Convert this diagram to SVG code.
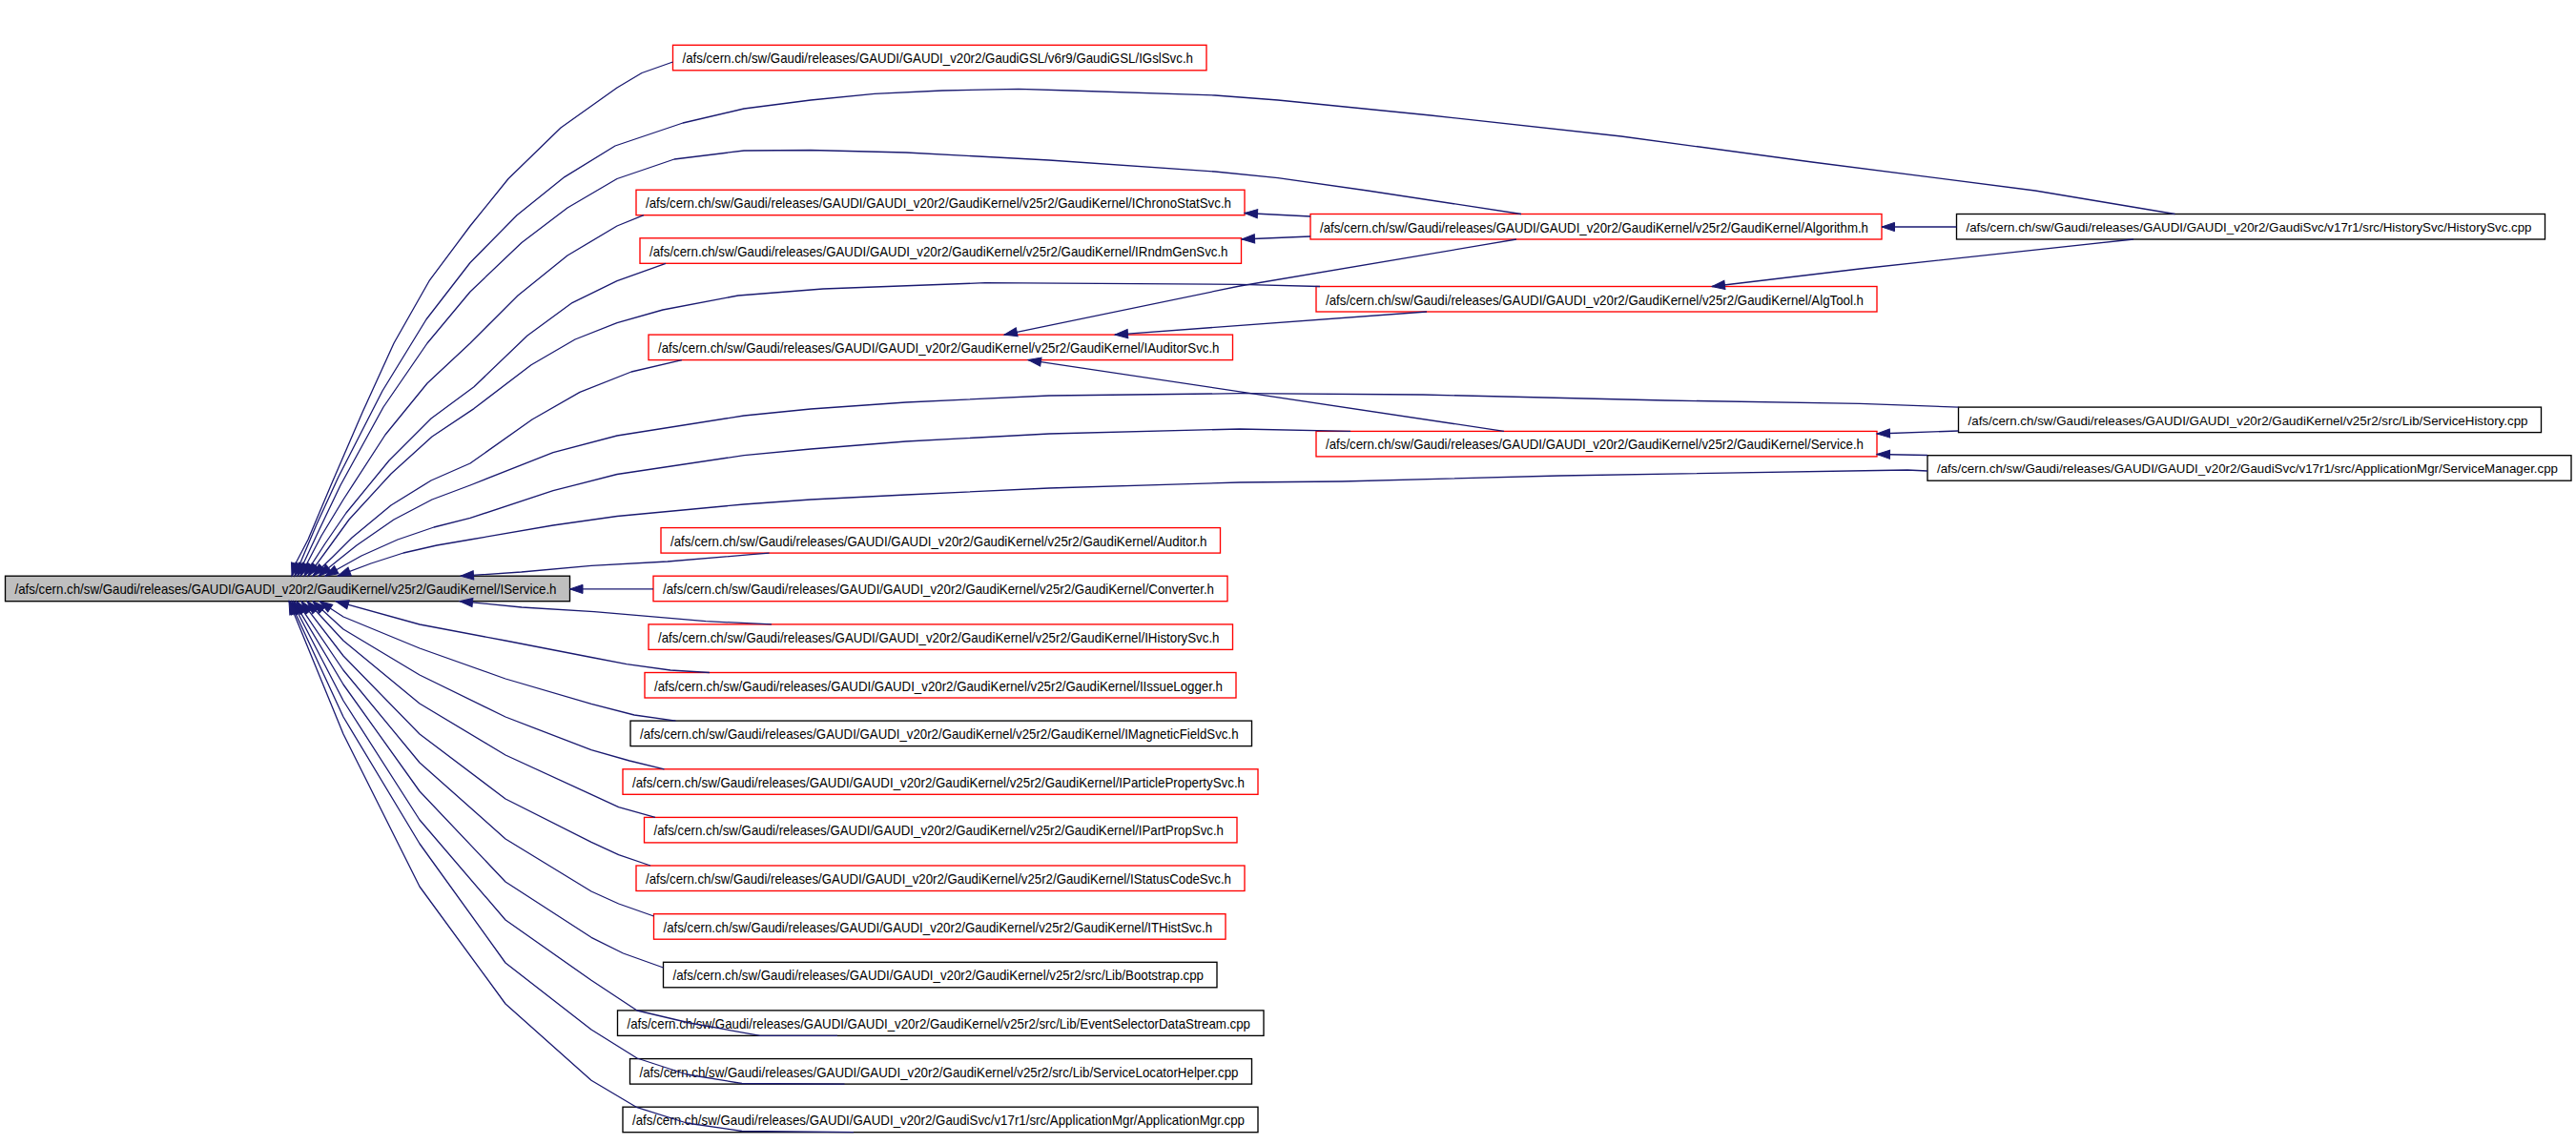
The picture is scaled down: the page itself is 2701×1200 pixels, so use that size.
<svg xmlns="http://www.w3.org/2000/svg" width="2701" height="1200" viewBox="0 0 2701 1200">
<style>
.bg{fill:#ffffff}
.nr{fill:#ffffff;stroke:#ff0000;stroke-width:1.35}
.nb{fill:#ffffff;stroke:#000000;stroke-width:1.35}
.nf{fill:#bfbfbf;stroke:#000000;stroke-width:1.35}
.t{font-family:"Liberation Sans",Arial,sans-serif;font-size:15px;fill:#000000}
.te{font-family:"Liberation Sans",Arial,sans-serif;font-size:13.5px;fill:#000000;text-anchor:middle}
.e{fill:none;stroke:#191970;stroke-width:1.3;stroke-linejoin:round;marker-end:url(#ah)}
</style>
<defs>
<marker id="ah" markerUnits="userSpaceOnUse" markerWidth="16" markerHeight="12" refX="13.5" refY="4.6" orient="auto" overflow="visible">
<path d="M0,0 L13.5,4.6 L0,9.2 z" fill="#191970" stroke="#191970" stroke-width="1"/>
</marker>
</defs>
<rect class="bg" x="0" y="0" width="2701" height="1200"/>

<g id="nodes">
<g id="n_IService"><rect class="nf" x="5.5" y="604.2" width="592" height="26.5"/><text class="t" x="15.5" y="623.2" textLength="568" lengthAdjust="spacingAndGlyphs">/afs/cern.ch/sw/Gaudi/releases/GAUDI/GAUDI_v20r2/GaudiKernel/v25r2/GaudiKernel/IService.h</text></g>
<g id="n_IGslSvc"><rect class="nr" x="705.5" y="47.3" width="559.5" height="26.5"/><text class="t" x="715.5" y="66.3" textLength="535.5" lengthAdjust="spacingAndGlyphs">/afs/cern.ch/sw/Gaudi/releases/GAUDI/GAUDI_v20r2/GaudiGSL/v6r9/GaudiGSL/IGslSvc.h</text></g>
<g id="n_IChronoStatSvc"><rect class="nr" x="667" y="199.2" width="638" height="26.5"/><text class="t" x="677" y="218.2" textLength="614" lengthAdjust="spacingAndGlyphs">/afs/cern.ch/sw/Gaudi/releases/GAUDI/GAUDI_v20r2/GaudiKernel/v25r2/GaudiKernel/IChronoStatSvc.h</text></g>
<g id="n_IRndmGenSvc"><rect class="nr" x="671" y="249.8" width="630.5" height="26.5"/><text class="t" x="681" y="268.8" textLength="606.5" lengthAdjust="spacingAndGlyphs">/afs/cern.ch/sw/Gaudi/releases/GAUDI/GAUDI_v20r2/GaudiKernel/v25r2/GaudiKernel/IRndmGenSvc.h</text></g>
<g id="n_IAuditorSvc"><rect class="nr" x="680" y="351.1" width="612.5" height="26.5"/><text class="t" x="690" y="370.1" textLength="588.5" lengthAdjust="spacingAndGlyphs">/afs/cern.ch/sw/Gaudi/releases/GAUDI/GAUDI_v20r2/GaudiKernel/v25r2/GaudiKernel/IAuditorSvc.h</text></g>
<g id="n_Algorithm"><rect class="nr" x="1374" y="224.5" width="599" height="26.5"/><text class="t" x="1384" y="243.5" textLength="575" lengthAdjust="spacingAndGlyphs">/afs/cern.ch/sw/Gaudi/releases/GAUDI/GAUDI_v20r2/GaudiKernel/v25r2/GaudiKernel/Algorithm.h</text></g>
<g id="n_AlgTool"><rect class="nr" x="1380" y="300.5" width="588" height="26.5"/><text class="t" x="1390" y="319.5" textLength="564" lengthAdjust="spacingAndGlyphs">/afs/cern.ch/sw/Gaudi/releases/GAUDI/GAUDI_v20r2/GaudiKernel/v25r2/GaudiKernel/AlgTool.h</text></g>
<g id="n_HistorySvc"><rect class="nb" x="2051.5" y="224.5" width="617" height="26.5"/><text class="te" x="2358" y="243" textLength="593" lengthAdjust="spacingAndGlyphs">/afs/cern.ch/sw/Gaudi/releases/GAUDI/GAUDI_v20r2/GaudiSvc/v17r1/src/HistorySvc/HistorySvc.cpp</text></g>
<g id="n_Service"><rect class="nr" x="1380" y="452.4" width="588" height="26.5"/><text class="t" x="1390" y="471.4" textLength="564" lengthAdjust="spacingAndGlyphs">/afs/cern.ch/sw/Gaudi/releases/GAUDI/GAUDI_v20r2/GaudiKernel/v25r2/GaudiKernel/Service.h</text></g>
<g id="n_ServiceHistory"><rect class="nb" x="2053.5" y="427.1" width="611" height="26.5"/><text class="te" x="2357" y="445.6" textLength="587" lengthAdjust="spacingAndGlyphs">/afs/cern.ch/sw/Gaudi/releases/GAUDI/GAUDI_v20r2/GaudiKernel/v25r2/src/Lib/ServiceHistory.cpp</text></g>
<g id="n_ServiceManager"><rect class="nb" x="2021" y="477.7" width="675" height="26.5"/><text class="te" x="2356.5" y="496.2" textLength="651" lengthAdjust="spacingAndGlyphs">/afs/cern.ch/sw/Gaudi/releases/GAUDI/GAUDI_v20r2/GaudiSvc/v17r1/src/ApplicationMgr/ServiceManager.cpp</text></g>
<g id="n_Auditor"><rect class="nr" x="693" y="553.6" width="586.5" height="26.5"/><text class="t" x="703" y="572.6" textLength="562.5" lengthAdjust="spacingAndGlyphs">/afs/cern.ch/sw/Gaudi/releases/GAUDI/GAUDI_v20r2/GaudiKernel/v25r2/GaudiKernel/Auditor.h</text></g>
<g id="n_Converter"><rect class="nr" x="685" y="604.2" width="602" height="26.5"/><text class="t" x="695" y="623.2" textLength="578" lengthAdjust="spacingAndGlyphs">/afs/cern.ch/sw/Gaudi/releases/GAUDI/GAUDI_v20r2/GaudiKernel/v25r2/GaudiKernel/Converter.h</text></g>
<g id="n_IHistorySvc"><rect class="nr" x="680" y="654.9" width="612.5" height="26.5"/><text class="t" x="690" y="673.9" textLength="588.5" lengthAdjust="spacingAndGlyphs">/afs/cern.ch/sw/Gaudi/releases/GAUDI/GAUDI_v20r2/GaudiKernel/v25r2/GaudiKernel/IHistorySvc.h</text></g>
<g id="n_IIssueLogger"><rect class="nr" x="676" y="705.5" width="620" height="26.5"/><text class="t" x="686" y="724.5" textLength="596" lengthAdjust="spacingAndGlyphs">/afs/cern.ch/sw/Gaudi/releases/GAUDI/GAUDI_v20r2/GaudiKernel/v25r2/GaudiKernel/IIssueLogger.h</text></g>
<g id="n_IMagneticFieldSvc"><rect class="nb" x="661" y="756.1" width="651.5" height="26.5"/><text class="t" x="671" y="775.1" textLength="627.5" lengthAdjust="spacingAndGlyphs">/afs/cern.ch/sw/Gaudi/releases/GAUDI/GAUDI_v20r2/GaudiKernel/v25r2/GaudiKernel/IMagneticFieldSvc.h</text></g>
<g id="n_IParticlePropertySvc"><rect class="nr" x="653" y="806.8" width="666" height="26.5"/><text class="t" x="663" y="825.8" textLength="642" lengthAdjust="spacingAndGlyphs">/afs/cern.ch/sw/Gaudi/releases/GAUDI/GAUDI_v20r2/GaudiKernel/v25r2/GaudiKernel/IParticlePropertySvc.h</text></g>
<g id="n_IPartPropSvc"><rect class="nr" x="675.5" y="857.4" width="621.5" height="26.5"/><text class="t" x="685.5" y="876.4" textLength="597.5" lengthAdjust="spacingAndGlyphs">/afs/cern.ch/sw/Gaudi/releases/GAUDI/GAUDI_v20r2/GaudiKernel/v25r2/GaudiKernel/IPartPropSvc.h</text></g>
<g id="n_IStatusCodeSvc"><rect class="nr" x="667" y="908" width="638" height="26.5"/><text class="t" x="677" y="927" textLength="614" lengthAdjust="spacingAndGlyphs">/afs/cern.ch/sw/Gaudi/releases/GAUDI/GAUDI_v20r2/GaudiKernel/v25r2/GaudiKernel/IStatusCodeSvc.h</text></g>
<g id="n_ITHistSvc"><rect class="nr" x="685.5" y="958.7" width="599.5" height="26.5"/><text class="t" x="695.5" y="977.7" textLength="575.5" lengthAdjust="spacingAndGlyphs">/afs/cern.ch/sw/Gaudi/releases/GAUDI/GAUDI_v20r2/GaudiKernel/v25r2/GaudiKernel/ITHistSvc.h</text></g>
<g id="n_Bootstrap"><rect class="nb" x="695.5" y="1009.3" width="580.5" height="26.5"/><text class="t" x="705.5" y="1028.3" textLength="556.5" lengthAdjust="spacingAndGlyphs">/afs/cern.ch/sw/Gaudi/releases/GAUDI/GAUDI_v20r2/GaudiKernel/v25r2/src/Lib/Bootstrap.cpp</text></g>
<g id="n_EventSelectorDataStream"><rect class="nb" x="647.5" y="1059.9" width="677.5" height="26.5"/><text class="t" x="657.5" y="1078.9" textLength="653.5" lengthAdjust="spacingAndGlyphs">/afs/cern.ch/sw/Gaudi/releases/GAUDI/GAUDI_v20r2/GaudiKernel/v25r2/src/Lib/EventSelectorDataStream.cpp</text></g>
<g id="n_ServiceLocatorHelper"><rect class="nb" x="660.5" y="1110.6" width="652" height="26.5"/><text class="t" x="670.5" y="1129.6" textLength="628" lengthAdjust="spacingAndGlyphs">/afs/cern.ch/sw/Gaudi/releases/GAUDI/GAUDI_v20r2/GaudiKernel/v25r2/src/Lib/ServiceLocatorHelper.cpp</text></g>
<g id="n_ApplicationMgr"><rect class="nb" x="653" y="1161.2" width="666" height="26.5"/><text class="t" x="663" y="1180.2" textLength="642" lengthAdjust="spacingAndGlyphs">/afs/cern.ch/sw/Gaudi/releases/GAUDI/GAUDI_v20r2/GaudiSvc/v17r1/src/ApplicationMgr/ApplicationMgr.cpp</text></g>
</g>

<g id="edges">
<path class="e" d="M705.5,65 L673,76.5 L647,92 L588,134 L533,187.5 L493,237 L450,294.7 L413,360 L380,432.5 L347,509 L323,566 L310,591 L306,604.2"/>
<path class="e" d="M2280.5,224.5 L2134,200 L1900,170 L1700,143 L1500,121 L1340,105 L1274,100 L1122,95 L1068,93.3 L988,95 L917,98.3 L850,105 L780,114 L716,129 L645,153 L592,185.6 L542,225.8 L493,275.5 L447,335 L401,410 L355,500 L332,550 L309,604.2"/>
<path class="e" d="M1595,224.5 L1434,200 L1340,186.7 L1274,180 L1100,168 L950,160 L850,157.5 L780,158 L707,167 L647,187.5 L595,218 L547,254.5 L493,306 L448,360 L402,427 L357,509 L335,555 L312,604.2"/>
<path class="e" d="M675,225.7 L647,237 L595,268 L543,310 L493,360 L448,402 L404,456 L360,524 L337,562 L315,604.2"/>
<path class="e" d="M698,276.3 L647,294.7 L600,317.6 L553,352 L497,405.7 L452,439 L408,483 L363,538 L341,570 L319,604.2"/>
<path class="e" d="M1384,300.5 L1300,298.3 L1033,296.7 L863,303 L774,310 L695,325 L647,338.7 L603,356 L557,382.7 L497,428.6 L453,458 L410,497 L366,545 L345,574 L323,604.2"/>
<path class="e" d="M715,377.6 L662,390 L608,411.4 L558,440 L493,486 L452,504 L410,530 L369,564 L349,584 L328,604.2"/>
<path class="e" d="M2053.5,427.1 L1950,423.3 L1746,420 L1492,414 L1300,412.7 L1100,415 L950,422 L850,429 L780,436 L647,457 L580,474.6 L493,509 L453,524 L413,545 L374,572 L354,588 L334,604.2"/>
<path class="e" d="M1416,452.4 L1300,450 L1100,455 L950,463 L850,471 L780,477.6 L647,497.5 L580,514.7 L493,543.4 L455,553 L417,566 L379,583 L341,604.2"/>
<path class="e" d="M2021,494 L2000,493 L1635,499 L1407,505 L1300,506 L1100,512 L950,519 L850,524 L780,529 L647,541.5 L580,551 L493,566 L458,572 L423,580 L389,591 L354,604.2"/>
<path class="e" d="M806.6,580.1 L787.5,581.7 L700,589 L620,593.3 L546.7,600 L483,604.2"/>
<path class="e" d="M685,617.9 L597.5,617.9"/>
<path class="e" d="M809,654.9 L740,651.7 L623,641.7 L547,637 L482,630.7"/>
<path class="e" d="M744,705.5 L703,703 L657,696.7 L620,689.5 L530,672 L440,655 L352,630.7"/>
<path class="e" d="M708.5,756.1 L665,750 L620,738.3 L530,712 L440,680 L360,647 L335,630.7"/>
<path class="e" d="M696.5,806.8 L660,798 L620,786.7 L530,752 L440,708 L360,660 L328,630.7"/>
<path class="e" d="M687,857.4 L648.7,846.7 L620,833.3 L530,792 L440,738 L360,672 L322,630.7"/>
<path class="e" d="M682,908 L648.7,896.7 L620,883.3 L530,838 L440,770 L360,688 L316,630.7"/>
<path class="e" d="M685.5,961 L648.7,948 L620,935 L530,880 L440,800 L360,703 L311,630.7"/>
<path class="e" d="M695.5,1015 L653.5,1000 L620,983.3 L530,925 L440,830 L360,718 L308,630.7"/>
<path class="e" d="M878,1086.4 L797,1086.4 L723,1073 L668,1060 L620,1028.3 L530,965 L440,860 L360,735 L306,630.7"/>
<path class="e" d="M885.5,1137.1 L778,1136.5 L720,1127 L668,1110 L620,1080 L530,1010 L440,885 L360,752 L304,630.7"/>
<path class="e" d="M895,1187.7 L778,1186.5 L720,1178 L668,1161.7 L620,1133.3 L530,1053 L440,930 L360,770 L303,630.7"/>
<path class="e" d="M2051.5,238 L1973,238"/>
<path class="e" d="M2237,251 L1950,282 L1795,300.5"/>
<path class="e" d="M1374,227 L1305,223.5"/>
<path class="e" d="M1374,248 L1302,251"/>
<path class="e" d="M1590,251 L1300,300 L1053,351.1"/>
<path class="e" d="M1496,327 L1169,351.1"/>
<path class="e" d="M1577,452.4 L1078,377.6"/>
<path class="e" d="M2053.5,452 L1968,455"/>
<path class="e" d="M2021,477.5 L1968,476.5"/>
</g>
</svg>
